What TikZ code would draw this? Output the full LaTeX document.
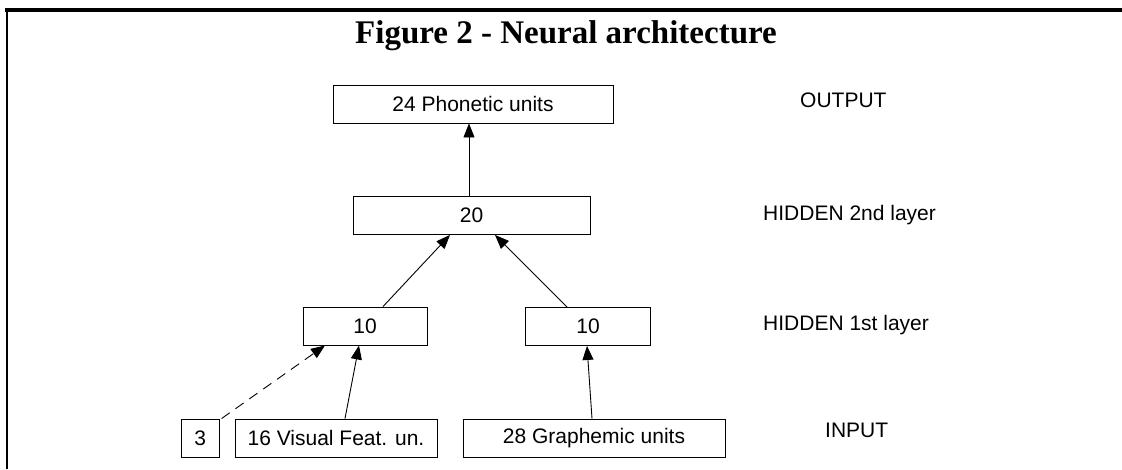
\documentclass[tikz,border=0pt]{standalone}
\usepackage{fontspec}
\setmainfont{Liberation Serif}
\setsansfont{Liberation Sans}
\usepackage{tikz}
\usetikzlibrary{arrows.meta, positioning}
\tikzset{>={Triangle[length=14pt,width=11pt]},
layerbox/.style={draw, line width=0.9pt, minimum height=38pt, inner sep=0pt,
  font=\sffamily\fontsize{21}{25}\selectfont},
layertag/.style={anchor=base west, inner sep=0pt, font=\sffamily\fontsize{21}{25}\selectfont},
link/.style={->, line width=0.9pt}}

\begin{document}
\begin{tikzpicture}[x=1pt,y=-1pt]
\useasboundingbox (0,0) rectangle (1122,469);
\draw[line width=4pt] (5,9.5) -- (1122,9.5);
\draw[line width=2pt] (7,9.5) -- (7,469);
\node[anchor=base, inner sep=0pt, font=\bfseries\fontsize{33}{38}\selectfont] (title) at (566,43) {Figure 2 - Neural architecture};
\node[layerbox, minimum width=280pt] (phon) at (473,104) {24 Phonetic units};
\node[layerbox, minimum width=237pt] (hid2) at (471.5,215.5) {20};
\node[layerbox, minimum width=124pt] (hid1a) at (365,326) {10};
\node[layerbox, minimum width=125pt] (hid1b) at (588,326.5) {10};
\node[layerbox, minimum width=202pt] (visual) at (336,438) {16 Visual Feat. un.};
\node[layerbox, minimum width=38pt, left=15pt of visual] (three) {3};
\node[layerbox, minimum width=262pt] (graph) at (594,438) {28 Graphemic units};
% layer names
\node[layertag] (outtag) at (800,107) {OUTPUT};
\node[layertag] (hid2tag) at (763,220) {HIDDEN 2nd layer};
\node[layertag] (hid1tag) at (763,330) {HIDDEN 1st layer};
\node[layertag] (intag) at (825,437) {INPUT};
\draw[link] ([xshift=-2.5pt]hid2.north) -- ([xshift=-2.5pt]hid2.north |- phon.south);
\draw[link] ([xshift=18pt]hid1a.north) -- ([xshift=-21.5pt]hid2.south);
\draw[link] ([xshift=-21pt]hid1b.north) -- ([xshift=23.5pt]hid2.south);
\draw[link] ([xshift=9pt]visual.north) -- ([xshift=-6pt]hid1a.south);
\draw[link, dash pattern=on 10pt off 7pt] ([xshift=2pt]three.north east) -- ([xshift=-40pt]hid1a.south);
\draw[link] ([xshift=-2pt]graph.north) -- ([xshift=-1pt]hid1b.south);
\end{tikzpicture}
\end{document}
